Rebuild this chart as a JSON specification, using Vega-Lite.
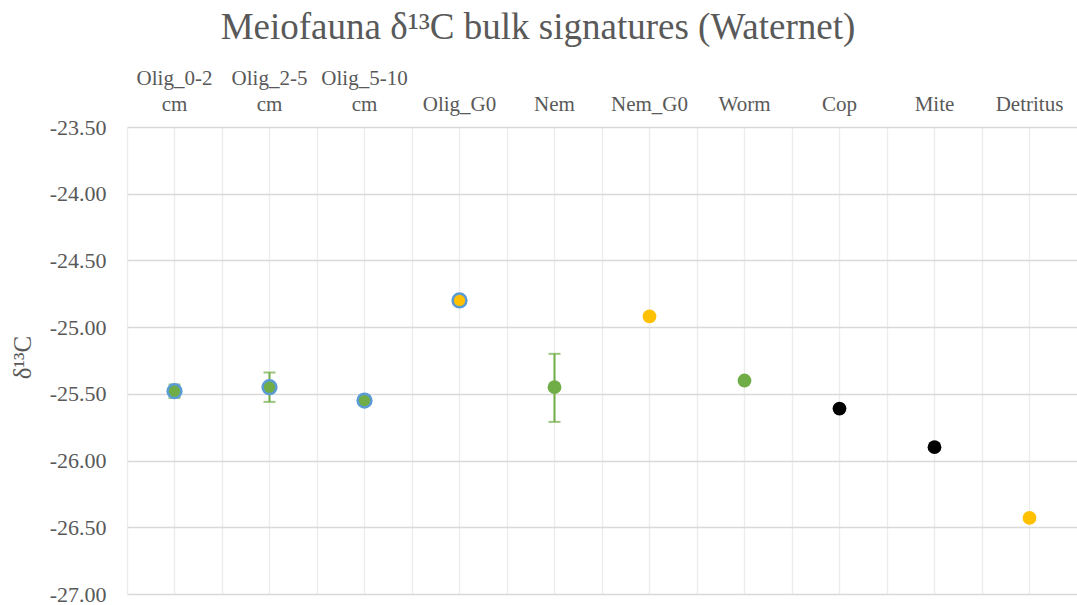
{
  "$schema": "https://vega.github.io/schema/vega-lite/v6.json",
  "autosize": {"type": "none"},
  "padding": {"left": 127, "top": 127, "right": 0, "bottom": 11},
  "width": 950,
  "height": 467,
  "background": "white",
  "config": {
    "view": {"stroke": null},
    "font": "'Liberation Serif', 'Times New Roman', Times, serif"
  },
  "title": {
    "text": "Meiofauna δ¹³C bulk signatures (Waternet)",
    "font": "'Liberation Serif', 'Times New Roman', Times, serif",
    "fontSize": 37,
    "fontWeight": "normal",
    "color": "#595959",
    "anchor": "middle",
    "frame": "group",
    "dx": -64,
    "offset": 20
  },
  "data": {
    "values": [
      {"sample": "Olig_0-2 cm", "d13C": -25.48, "lo": -25.53, "hi": -25.43, "series": "Olig"},
      {"sample": "Olig_2-5 cm", "d13C": -25.45, "lo": -25.56, "hi": -25.34, "series": "Olig"},
      {"sample": "Olig_5-10 cm", "d13C": -25.55, "lo": null, "hi": null, "series": "Olig"},
      {"sample": "Olig_G0", "d13C": -24.80, "lo": null, "hi": null, "series": "Olig_G0"},
      {"sample": "Nem", "d13C": -25.45, "lo": -25.71, "hi": -25.20, "series": "Fauna"},
      {"sample": "Nem_G0", "d13C": -24.92, "lo": null, "hi": null, "series": "Source"},
      {"sample": "Worm", "d13C": -25.40, "lo": null, "hi": null, "series": "Fauna"},
      {"sample": "Cop", "d13C": -25.61, "lo": null, "hi": null, "series": "Other"},
      {"sample": "Mite", "d13C": -25.90, "lo": null, "hi": null, "series": "Other"},
      {"sample": "Detritus", "d13C": -26.43, "lo": null, "hi": null, "series": "Source"}
    ]
  },
  "layer": [
    {
      "transform": [{"filter": "isValid(datum.lo)"}],
      "mark": {
        "type": "errorbar",
        "ticks": {"size": 12, "thickness": 2, "color": "#70AD47"},
        "rule": {"strokeWidth": 2, "color": "#70AD47"},
        "color": "#70AD47"
      },
      "encoding": {
        "x": {
          "field": "sample", "type": "nominal", "sort": null,
          "scale": {
            "domain": ["Olig_0-2 cm", "Olig_2-5 cm", "Olig_5-10 cm", "Olig_G0", "Nem", "Nem_G0", "Worm", "Cop", "Mite", "Detritus"],
            "paddingInner": 0, "paddingOuter": 0
          },
          "axis": {
            "orient": "bottom", "title": null, "labels": false, "ticks": false,
            "domain": false, "grid": true, "bandPosition": 0,
            "gridColor": "#ececec", "gridWidth": 1.3
          }
        },
        "y": {"field": "lo", "type": "quantitative", "title": "δ¹³C"},
        "y2": {"field": "hi"}
      }
    },
    {
      "mark": {"type": "point", "filled": true, "size": 190, "opacity": 1, "strokeWidth": 2.5, "strokeOpacity": 1},
      "encoding": {
        "x": {
          "field": "sample", "type": "nominal", "sort": null,
          "axis": {
            "orient": "top", "title": null, "ticks": false, "domain": false,
            "grid": true, "gridColor": "#ececec", "gridWidth": 1.3,
            "labelAngle": 0, "labelFontSize": 21,
            "labelFont": "'Liberation Serif', 'Times New Roman', Times, serif",
            "labelColor": "#595959", "labelPadding": 39, "labelLineHeight": 26,
            "labelExpr": "indexof(datum.label, ' ') > 0 ? split(datum.label, ' ') : ['', datum.label]"
          }
        },
        "y": {
          "field": "d13C", "type": "quantitative",
          "title": "δ¹³C",
          "scale": {"domain": [-27, -23.5], "nice": false, "zero": false},
          "axis": {
            "values": [-27, -26.5, -26, -25.5, -25, -24.5, -24, -23.5],
            "labelExpr": "replace(format(datum.value, '.2f'), '\u2212', '-')",
            "ticks": false, "domain": false,
            "gridColor": "#d9d9d9", "gridWidth": 1.5,
            "labelFont": "'Liberation Serif', 'Times New Roman', Times, serif",
            "labelFontSize": 22, "labelColor": "#595959",
            "labelPadding": 21,
            "titleFont": "'Liberation Serif', 'Times New Roman', Times, serif",
            "titleFontSize": 25, "titleFontWeight": "normal",
            "titleColor": "#595959", "titleX": -105, "titleY": 230, "titleAngle": -90,
            "titleAlign": "center", "titleBaseline": "middle"
          }
        },
        "fill": {
          "field": "series", "type": "nominal", "legend": null,
          "scale": {
            "domain": ["Olig", "Olig_G0", "Fauna", "Source", "Other"],
            "range": ["#70AD47", "#FFC000", "#70AD47", "#FFC000", "#000000"]
          }
        },
        "stroke": {
          "field": "series", "type": "nominal", "legend": null,
          "scale": {
            "domain": ["Olig", "Olig_G0", "Fauna", "Source", "Other"],
            "range": ["#5B9BD5", "#5B9BD5", "rgba(0,0,0,0)", "rgba(0,0,0,0)", "rgba(0,0,0,0)"]
          }
        }
      }
    }
  ],
  "resolve": {"axis": {"x": "independent"}}
}
